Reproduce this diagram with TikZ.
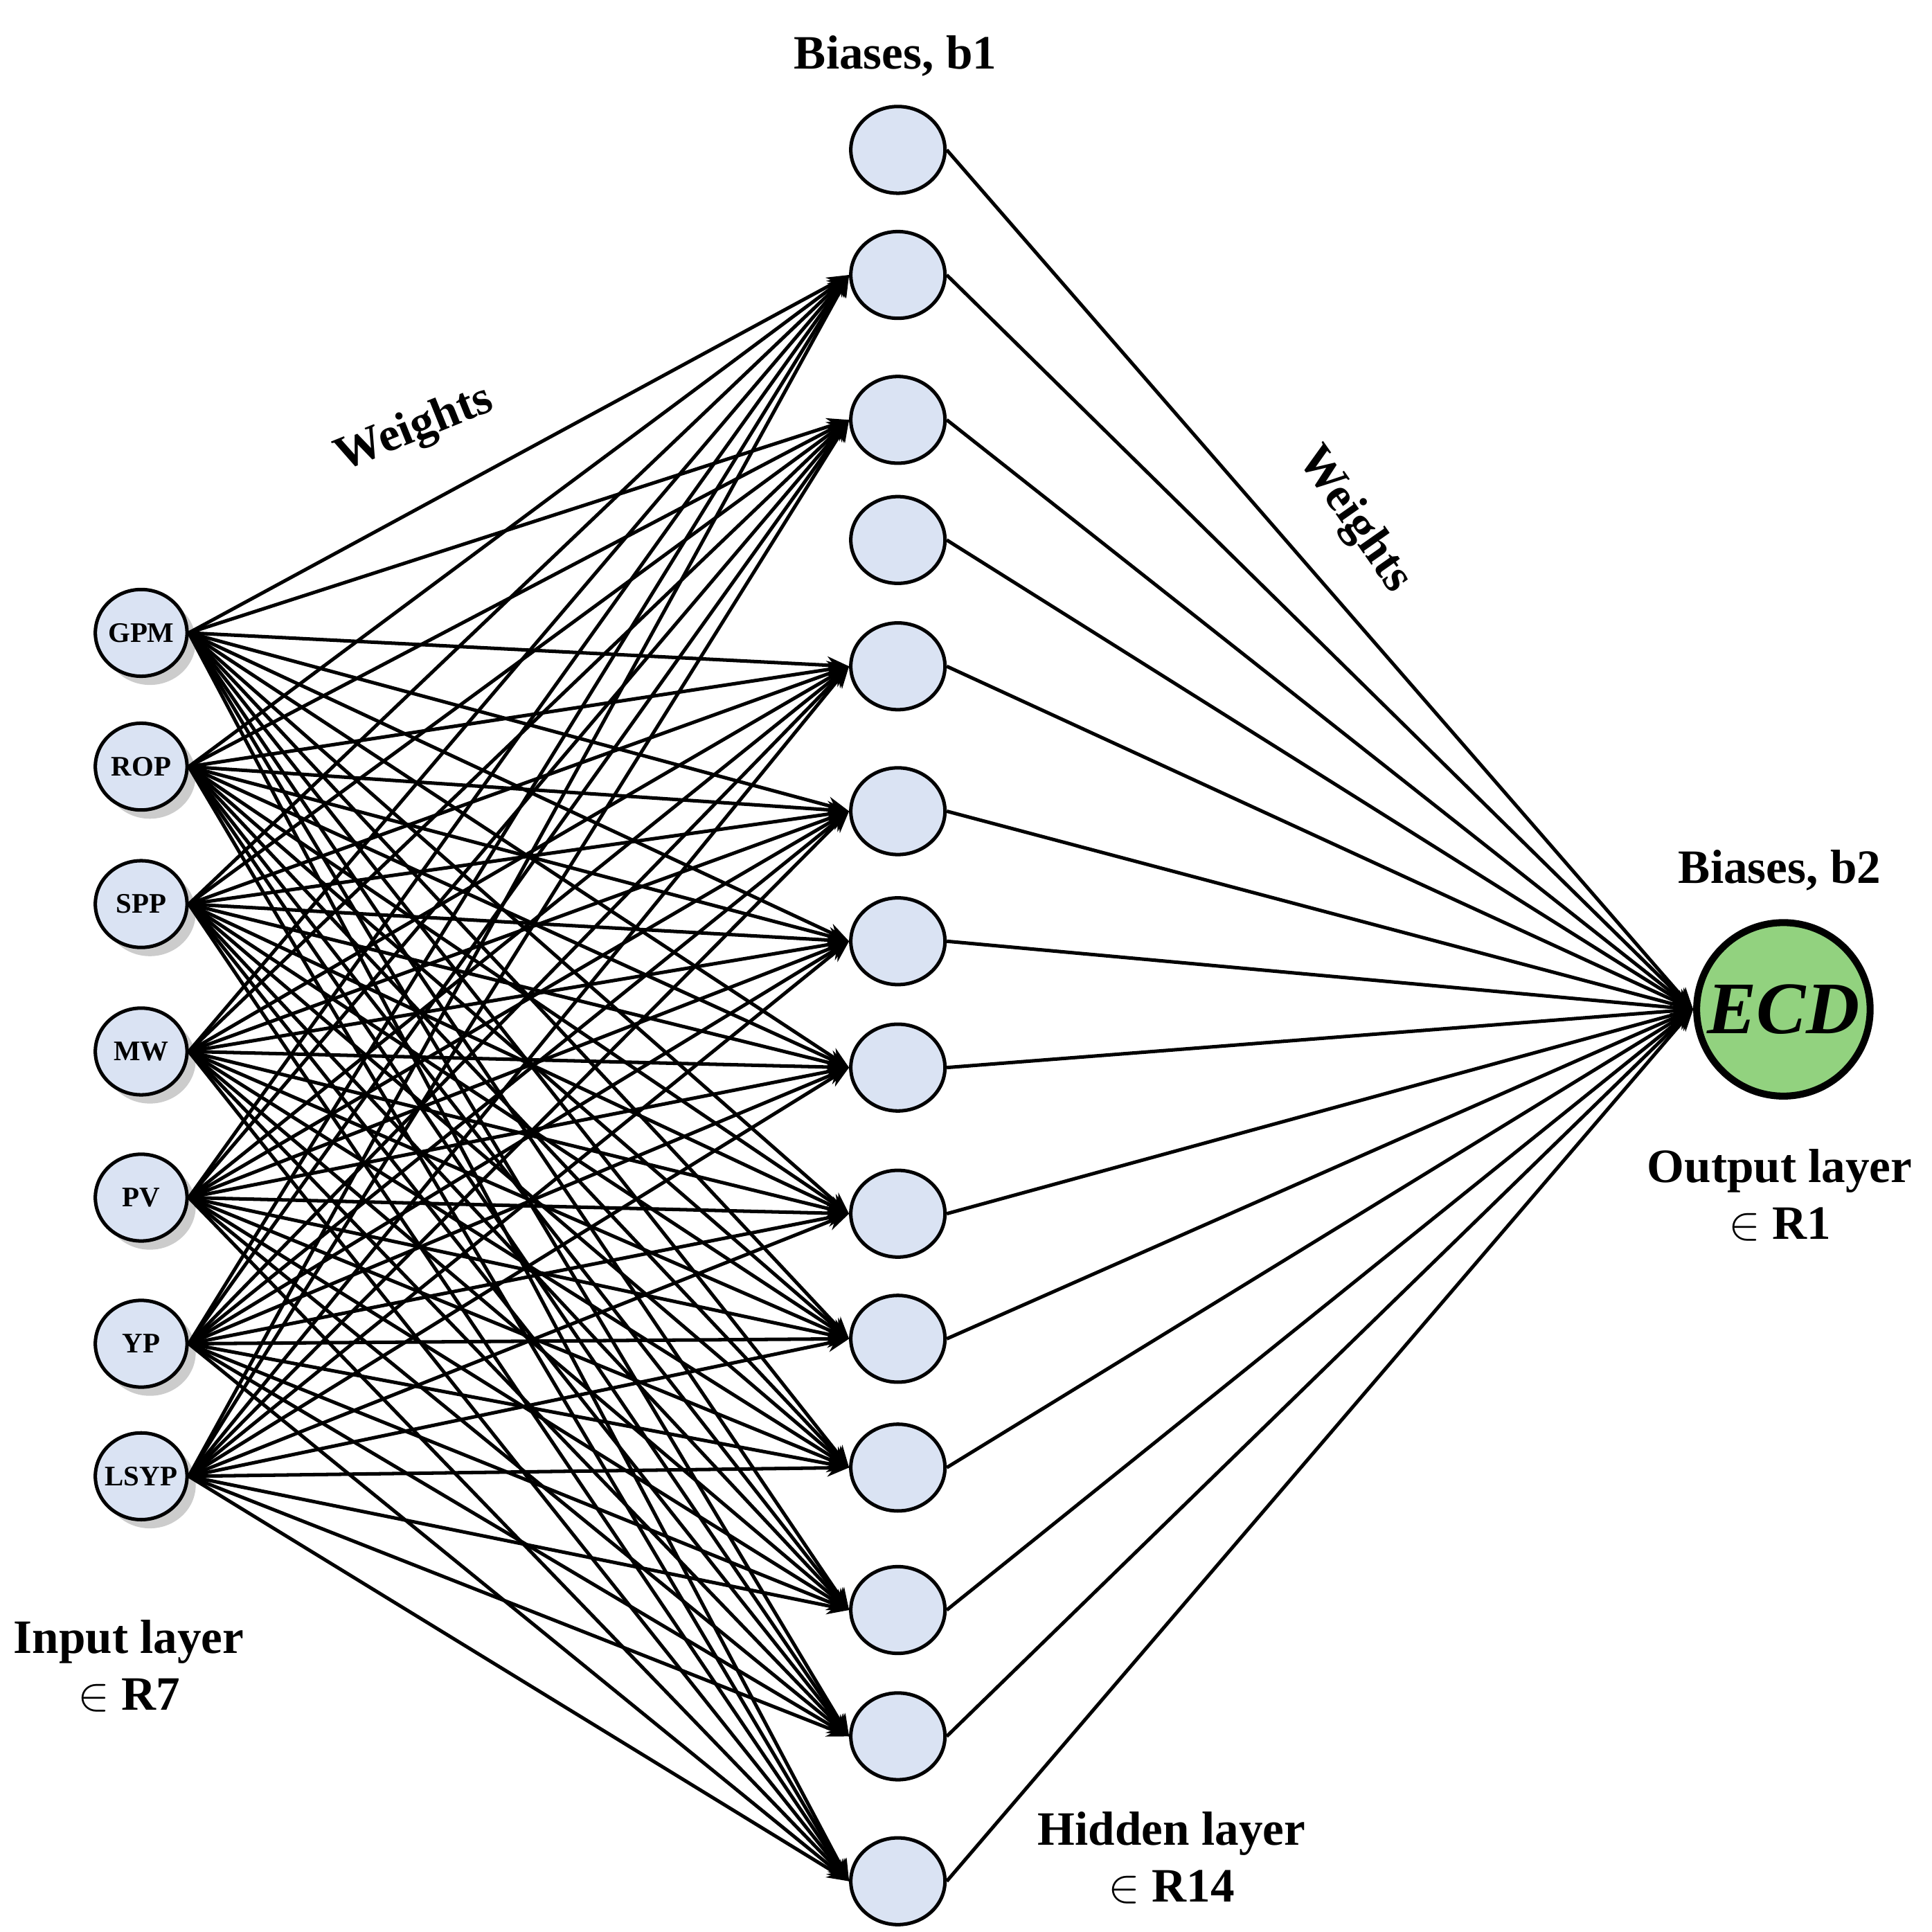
\documentclass[tikz,border=0pt]{standalone}
\usepackage{fontspec}
\setmainfont{Liberation Serif}
\usetikzlibrary{arrows.meta,shadows,shapes.geometric}
\definecolor{nodeblue}{HTML}{DAE3F3}
\definecolor{outgreen}{HTML}{92D27F}
\begin{document}
\begin{tikzpicture}[x=0.01cm,y=-0.01cm,
  inp/.style={ellipse,draw,thick,fill=nodeblue,minimum width=0.74cm,minimum height=0.7cm,inner sep=-2pt,font=\bfseries\fontsize{6.5}{8}\selectfont,drop shadow={shadow xshift=2pt,shadow yshift=-2pt,opacity=0.4}},
  hid/.style={ellipse,draw,thick,fill=nodeblue,minimum width=0.76cm,minimum height=0.7cm,inner sep=0pt},
  outn/.style={circle,draw,line width=1.6pt,fill=outgreen,minimum size=1.4cm,inner sep=0pt,font=\bfseries\itshape\fontsize{17}{19}\selectfont},
  lab/.style={font=\bfseries\fontsize{11}{13}\selectfont,align=center},
  w/.style={thick,-{Stealth[length=5pt,width=4pt]}}]
\useasboundingbox (0,0) rectangle (1560,1560);
\foreach \n/\y/\t in {1/511/GPM,2/619/ROP,3/730/SPP,4/849/MW,5/967/PV,6/1085/YP,7/1192/LSYP}
  \node[inp] (i\n) at (114,\y) {\t};
\foreach \n/\y in {1/121,2/222,3/339,4/436,5/538,6/655,7/760,8/862,9/980,10/1081,11/1185,12/1300,13/1402,14/1519}
  \node[hid] (h\n) at (725,\y) {};
\node[outn] (o) at (1440,815) {ECD};
\foreach \h in {2,3,5,6,7,8,9,10,11,12,13,14}
  \foreach \i in {1,...,7}
    \draw[w] (i\i.east) -- (h\h.west);
\foreach \h in {1,...,14}
  \draw[w] (h\h.east) -- (o.west);
\node[lab] (t1) at (723,45) {Biases, b1};
\node[lab,rotate=22] (t2) at (335,347) {Weights};
\node[lab,rotate=-55] (t3) at (1093,420) {Weights};
\node[lab] (t4) at (1437,703) {Biases, b2};
\node[lab] (t5) at (1437,965) {Output layer\\$\in$ R1};
\node[lab] (t6) at (104,1345) {Input layer\\$\in$ R7};
\node[lab] (t7) at (946,1500) {Hidden layer\\$\in$ R14};
\end{tikzpicture}
\end{document}
